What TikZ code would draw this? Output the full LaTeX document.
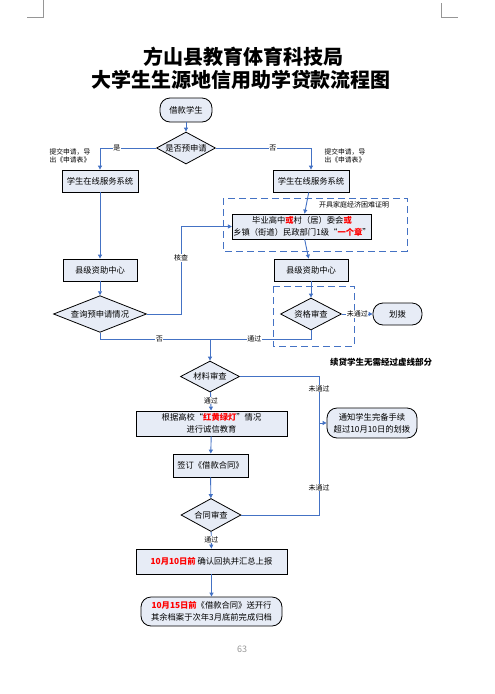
\documentclass[tikz,border=0pt]{standalone}
\usepackage{fontspec}
\setmainfont{Noto Sans CJK SC}
\usepackage{xcolor}
\usetikzlibrary{arrows.meta, shapes.geometric, positioning}
\definecolor{flowblue}{RGB}{68, 114, 196}
\definecolor{boxfill}{RGB}{231, 236, 246}
\definecolor{alertred}{RGB}{255, 0, 0}
\definecolor{markgray}{RGB}{150, 150, 150}
\newcommand{\redmark}[1]{\textcolor{alertred}{\bfseries #1}}

\begin{document}
\begin{tikzpicture}[x=1pt, y=-1pt,
  proc/.style={draw, fill=boxfill, line width=0.8pt, inner sep=1pt, align=center, font=\fontsize{8.3}{12}\selectfont},
  term/.style={proc, rounded corners=10pt},
  dec/.style={draw, diamond, fill=boxfill, line width=0.8pt, inner sep=0pt, aspect=2, font=\fontsize{8.3}{10}\selectfont},
  link/.style={flowblue, line width=0.9pt},
  arr/.style={link, -{Triangle[length=4pt, width=4pt]}},
  lbl/.style={fill=white, inner sep=0.5pt, text=black, font=\fontsize{7}{8}\selectfont},
  note/.style={align=left, anchor=west, font=\fontsize{6.8}{8.5}\selectfont},
  zone/.style={draw=flowblue, dash pattern=on 7pt off 4pt, line width=0.9pt},
]
  \useasboundingbox (0,0) rectangle (495,694);

  % Page corner marks
  \draw[markgray, line width=0.6pt] (27,17) -- (43,17) -- (43,0);
  \draw[markgray, line width=0.6pt] (441,3) -- (441,17) -- (458,17);

  % Title
  \node[font=\fontsize{20}{24}\selectfont\bfseries] (title1) at (243,57) {方山县教育体育科技局};
  \node[font=\fontsize{20}{24}\selectfont\bfseries] (title2) at (241,80) {大学生生源地信用助学贷款流程图};

  % Dashed zones
  \draw[zone] (223,198) rectangle (407,251);
  \draw[zone] (273,286) rectangle (354,346);

  % Nodes
  \node[term, minimum width=52pt, minimum height=24pt] (stu) at (186,110) {借款学生};
  \node[dec, minimum width=59pt, minimum height=32pt] (pre) at (186,148) {是否预申请};
  \node[proc, minimum width=76pt, minimum height=22pt] (sysL) at (100,181) {学生在线服务系统};
  \node[proc, minimum width=76pt, minimum height=22pt] (sysR) at (311,181) {学生在线服务系统};
  \node[note] (noteL) at (46,156) {提交申请，导\\出《申请表》};
  \node[note] (noteR) at (321,156) {提交申请，导\\出《申请表》};
  \node[font=\fontsize{7}{8}\selectfont] (proof) at (354,205) {开具家庭经济困难证明};
  \node[proc, minimum width=131pt, minimum height=25pt] (cert) at (302,226.5)
    {毕业高中\redmark{或}村（居）委会\redmark{或}\\乡镇（街道）民政部门1级“\redmark{一个章}”};
  \node[proc, minimum width=74pt, minimum height=22pt] (ctrL) at (100,270) {县级资助中心};
  \node[proc, minimum width=74pt, minimum height=22pt] (ctrR) at (311,270) {县级资助中心};
  \node[dec, minimum width=93pt, minimum height=32pt] (query) at (100,314) {查询预申请情况};
  \node[dec, minimum width=61pt, minimum height=32pt] (qual) at (311,314) {资格审查};
  \node[term, minimum width=49pt, minimum height=22pt] (bohua) at (397.5,314) {划拨};
  \node[font=\fontsize{8.5}{10}\selectfont\bfseries] (renew) at (381,362) {续贷学生无需经过虚线部分};
  \node[dec, minimum width=59pt, minimum height=31pt] (mat) at (210,376.5) {材料审查};
  \node[proc, minimum width=151pt, minimum height=25pt] (edu) at (211.5,423.5)
    {根据高校“\redmark{红黄绿灯}”情况\\进行诚信教育};
  \node[term, minimum width=90pt, minimum height=30pt] (notice) at (372,423) {通知学生完备手续\\超过10月10日的划拨};
  \node[proc, minimum width=75pt, minimum height=23pt] (sign) at (210.5,465.5) {签订《借款合同》};
  \node[dec, minimum width=60pt, minimum height=33pt] (con) at (211,515) {合同审查};
  \node[proc, minimum width=151pt, minimum height=25pt] (report) at (211.5,561.5)
    {\redmark{10月10日前} 确认回执并汇总上报};
  \node[term, minimum width=141pt, minimum height=29pt] (final) at (211.5,611.5)
    {\redmark{10月15日前}《借款合同》送开行\\其余档案于次年3月底前完成归档};
  \node[font=\fontsize{9}{10}\selectfont, text=markgray] (pagenum) at (242,649) {63};

  \coordinate (chk) at (181,226.5);
  \coordinate (merge) at (210,339);
  \coordinate (back) at (319,423);

  % Connections
  \draw[arr] (stu) -- (pre);
  \draw[arr] (pre.west) -| node[lbl, pos=0.35] {是} (sysL.north);
  \draw[arr] (pre.east) -| node[lbl, pos=0.3] {否} (sysR.north);
  \draw[arr] (sysL) -- (ctrL);
  \draw[arr] (ctrL) -- (query);
  \draw[arr] (query.east) -| node[lbl, pos=0.82] {核查} (chk) -- (cert.west);
  \draw[arr] (sysR) -- (cert);
  \draw[arr] (cert) -- (ctrR);
  \draw[arr] (ctrR) -- (qual);
  \draw[arr] (qual.east) -- node[lbl] {未通过} (bohua.west);
  \draw[link] (query.south) |- node[lbl, pos=0.77] {否} (merge);
  \draw[link] (qual.south) |- node[lbl, pos=0.78] {通过} (merge);
  \draw[arr] (merge) -- (mat);
  \draw[arr] (mat.east) -| node[lbl, pos=0.63] {未通过} (back) -- (notice.west);
  \draw[link] (con.east) -| node[lbl, pos=0.65] {未通过} (back);
  \draw[arr] (mat) -- node[lbl, pos=0.45] {通过} (edu);
  \draw[arr] (edu) -- (sign);
  \draw[arr] (sign) -- (con);
  \draw[arr] (con) -- node[lbl, pos=0.45] {通过} (report);
  \draw[arr] (report) -- (final);

\end{tikzpicture}
\end{document}
